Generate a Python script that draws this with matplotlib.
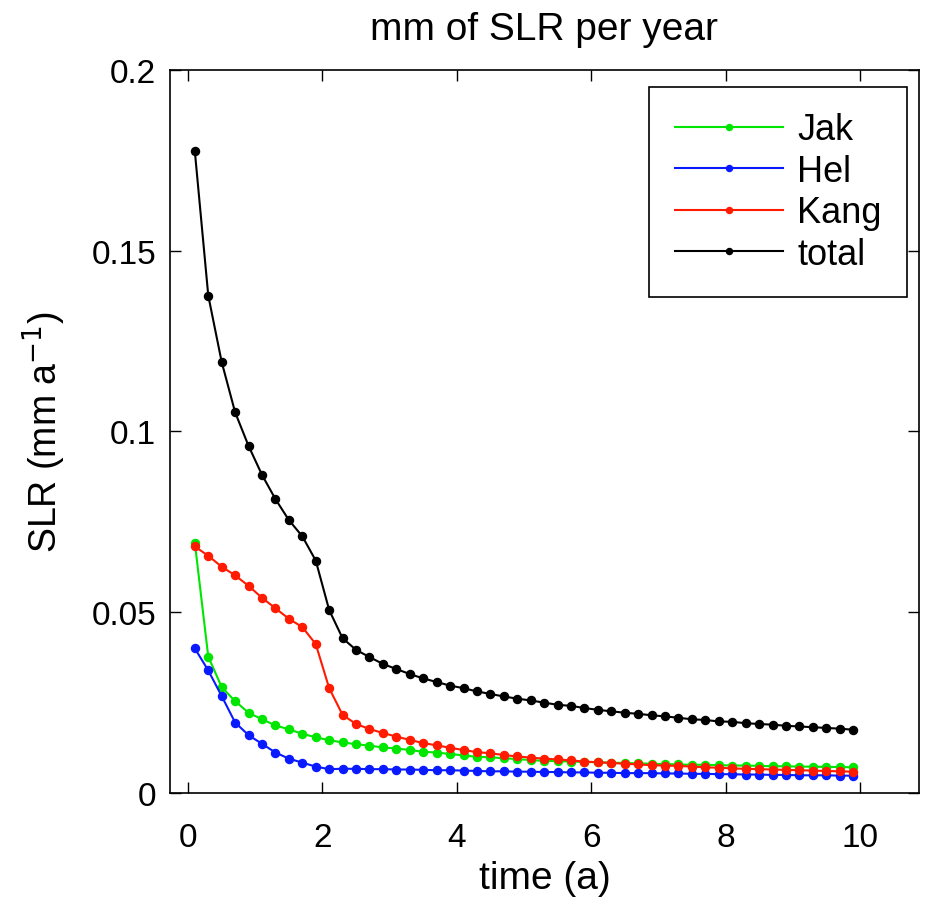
#import necessary libraries
import numpy as np
import matplotlib
matplotlib.use("Agg")
import matplotlib.pyplot as plt

plt.rcParams['font.family'] = ['Liberation Sans', 'DejaVu Sans']

#time axis (years), one point every 0.2 a
time = np.arange(0.1, 10.0, 0.2)

#Jakobshavn contribution (mm/a)
jak = [0.0692, 0.0377, 0.0293, 0.0254, 0.0222, 0.0204, 0.0187, 0.0176, 0.0164, 0.0154,
       0.0146, 0.0140, 0.0135, 0.0131, 0.0126, 0.0123, 0.0119, 0.0114, 0.0112, 0.0108,
       0.0104, 0.0100, 0.0099, 0.0096, 0.0094, 0.0091, 0.0089, 0.0088, 0.0087, 0.0086,
       0.0085, 0.0084, 0.0083, 0.0082, 0.0081, 0.0080, 0.0079, 0.0078, 0.0078, 0.0077,
       0.0076, 0.0076, 0.0075, 0.0074, 0.0074, 0.0073, 0.0073, 0.0072, 0.0072, 0.0071]
#Helheim contribution
hel = [0.0400, 0.0339, 0.0268, 0.0195, 0.0160, 0.0136, 0.0112, 0.0095, 0.0084, 0.0073,
       0.0066, 0.0067, 0.0067, 0.0066, 0.0066, 0.0065, 0.0065, 0.0064, 0.0063, 0.0063,
       0.0062, 0.0061, 0.0060, 0.0060, 0.0059, 0.0059, 0.0058, 0.0058, 0.0057, 0.0057,
       0.0056, 0.0056, 0.0055, 0.0055, 0.0055, 0.0054, 0.0054, 0.0053, 0.0053, 0.0052,
       0.0052, 0.0051, 0.0051, 0.0050, 0.0050, 0.0049, 0.0049, 0.0049, 0.0048, 0.0048]
#Kangerdlugssuaq contribution
kang = [0.0682, 0.0656, 0.0626, 0.0602, 0.0573, 0.0540, 0.0511, 0.0482, 0.0459, 0.0412,
        0.0290, 0.0216, 0.0191, 0.0177, 0.0166, 0.0156, 0.0147, 0.0138, 0.0132, 0.0125,
        0.0119, 0.0113, 0.0110, 0.0105, 0.0101, 0.0098, 0.0095, 0.0093, 0.0090, 0.0087,
        0.0085, 0.0083, 0.0081, 0.0079, 0.0077, 0.0076, 0.0075, 0.0073, 0.0071, 0.0070,
        0.0068, 0.0067, 0.0066, 0.0065, 0.0064, 0.0063, 0.0062, 0.0061, 0.0060, 0.0059]
#sum of all three glaciers
total = [0.1775, 0.1376, 0.1192, 0.1053, 0.0960, 0.0880, 0.0813, 0.0755, 0.0710, 0.0643,
         0.0506, 0.0428, 0.0396, 0.0376, 0.0357, 0.0343, 0.0329, 0.0317, 0.0307, 0.0297,
         0.0290, 0.0281, 0.0274, 0.0267, 0.0261, 0.0256, 0.0250, 0.0244, 0.0241, 0.0235,
         0.0230, 0.0226, 0.0222, 0.0219, 0.0215, 0.0212, 0.0208, 0.0204, 0.0202, 0.0198,
         0.0197, 0.0193, 0.0191, 0.0189, 0.0186, 0.0184, 0.0182, 0.0180, 0.0178, 0.0175]

x_ticks = [0, 2, 4, 6, 8, 10]
y_ticks = [0, 0.05, 0.1, 0.15, 0.2]
y_ticklabels = ["0", "0.05", "0.1", "0.15", "0.2"]

fig = plt.figure(figsize=(9.36, 9.03), dpi=100)
ax = fig.add_axes([0.1816, 0.1207, 0.8002, 0.8007])

#draw the four curves
ax.plot(time, jak, '-o', color='#00e600', lw=1.5, ms=5.8, label='Jak')
ax.plot(time, hel, '-o', color='#0a1aff', lw=1.5, ms=5.8, label='Hel')
ax.plot(time, kang, '-o', color='#ff1a00', lw=1.5, ms=5.8, label='Kang')
ax.plot(time, total, '-o', color='black', lw=1.5, ms=5.8, label='total')

ax.set_xlim(-0.27, 10.88)
ax.set_ylim(0, 0.2)
ax.set_xticks(x_ticks)
ax.set_yticks(y_ticks)
ax.set_yticklabels(y_ticklabels)
ax.tick_params(direction='in', top=True, right=True, length=8, width=1,
               labelsize=24)
ax.tick_params(axis='y', pad=10)
ax.tick_params(axis='x', pad=21)
for s in ax.spines.values():
    s.set_linewidth(1.2)

#labels and title
ax.set_xlabel("time (a)", fontsize=28, labelpad=5)
ax.set_ylabel("SLR (mm a$^{-1}$)", fontsize=27, labelpad=17)
ax.set_title("mm of SLR per year", fontsize=28, pad=22)

leg = ax.legend(loc='upper right', bbox_to_anchor=(907/936, 1-88/903),
                bbox_transform=fig.transFigure, borderaxespad=0,
                fontsize=26, handlelength=3.0, markerscale=0.75,
                fancybox=False, edgecolor='black', framealpha=1,
                labelspacing=0.18, borderpad=0.7, handletextpad=0.4)
leg.get_frame().set_linewidth(1.2)

fig.savefig("out.png", dpi=100)
